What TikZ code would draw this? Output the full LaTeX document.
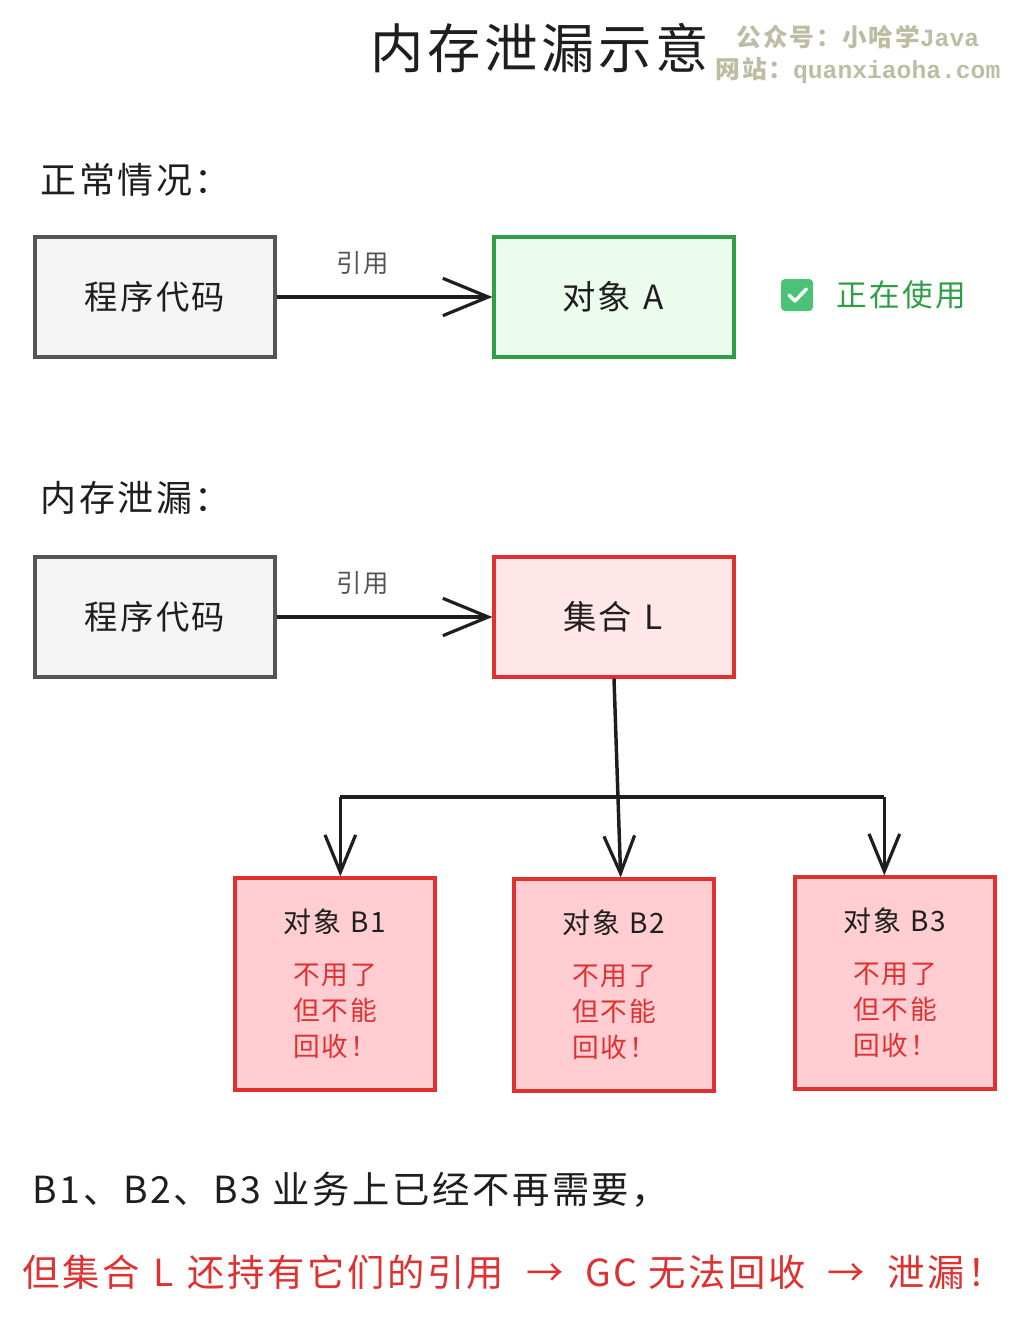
\documentclass[tikz,border=0pt]{standalone}
\usepackage{fontspec}
\setmainfont{Noto Sans CJK SC}[LetterSpace=7]
\newfontfamily\wmmono{Liberation Mono}
\usetikzlibrary{arrows.meta,positioning}

\definecolor{inkdark}{HTML}{1E1E1E}
\definecolor{inkgray}{HTML}{555555}
\definecolor{codefill}{HTML}{F5F5F5}
\definecolor{okgreen}{HTML}{2F9E44}
\definecolor{okfill}{HTML}{EBFBEE}
\definecolor{okbox}{HTML}{4CC276}
\definecolor{leakred}{HTML}{E03131}
\definecolor{setfill}{HTML}{FFE6E8}
\definecolor{objfill}{HTML}{FFCDD2}
\definecolor{wmcolor}{HTML}{BDBDA3}

\begin{document}
\begin{tikzpicture}[x=0.75pt, y=-0.75pt,
    box/.style={draw, line width=2.4pt, minimum width=180pt, minimum height=90pt,
      font=\fontsize{25pt}{30pt}\selectfont, text=inkdark},
    codebox/.style={box, draw=inkgray, fill=codefill},
    objbox/.style={draw=leakred, fill=objfill, line width=2.4pt,
      minimum width=150pt, minimum height=159pt, align=center, text=inkdark,
      font=\fontsize{20pt}{27pt}\selectfont},
    heading/.style={anchor=west, text=inkdark, font=\fontsize{27pt}{32pt}\selectfont},
    reflink/.style={line width=2.4pt, draw=inkdark,
      -{Straight Barb[length=34pt, width=28pt, line width=2.4pt]}},
    downlink/.style={line width=2.6pt, draw=inkdark,
      -{Straight Barb[length=28pt, width=23pt, line width=2.4pt]}},
    reflabel/.style={text=inkgray, font=\fontsize{19pt}{22pt}\selectfont}]

  \useasboundingbox (0,0) rectangle (1019,1321);

  % title and watermark
  \node [text=inkdark, font=\fontsize{40pt}{44pt}\selectfont] (title) at (540,48) {内存泄漏示意};
  \node [text=wmcolor, align=center, font=\fontsize{18.5pt}{24pt}\bfseries] (mark) at (858,54)
        {公众号：小哈学{\wmmono Java}\\网站：{\wmmono quanxiaoha.com}};

  % normal case
  \node [heading] (normal) at (36,180) {正常情况：};
  \node [codebox] (code1) at (155,297) {程序代码};
  \node [box, draw=okgreen, fill=okfill] (objA) at (614,297) {对象 \textit{A}};
  \draw [reflink] (code1) -- node [reflabel, pos=0.4, above=12pt] (ref1) {引用} (objA);

  \node [fill=okbox, rounded corners=3pt, minimum size=24pt, inner sep=0pt] (chk) at (797,295) {};
  \draw [white, line width=2.6pt, line cap=round, line join=round]
        ([shift={(-6pt,0pt)}]chk.center) -- ([shift={(-1.5pt,-4.5pt)}]chk.center)
        -- ([shift={(7pt,4.5pt)}]chk.center);
  \node [right=14pt of chk, text=okgreen, font=\fontsize{23pt}{27pt}\selectfont] (inuse) {正在使用};

  % leak case
  \node [heading] (leak) at (36,498) {内存泄漏：};
  \node [codebox] (code2) at (155,617) {程序代码};
  \node [box, draw=leakred, fill=setfill] (setL) at (614,617) {集合 \textit{L}};
  \draw [reflink] (code2) -- node [reflabel, pos=0.4, above=12pt] (ref2) {引用} (setL);

  \node [objbox] (b1) at (335,984) {{\fontsize{21pt}{27pt}\selectfont 对象 B1}\\[12pt]
        \textcolor{leakred}{不用了}\\\textcolor{leakred}{但不能}\\\textcolor{leakred}{回收！}};
  \node [objbox] (b2) at (614,985) {{\fontsize{21pt}{27pt}\selectfont 对象 B2}\\[12pt]
        \textcolor{leakred}{不用了}\\\textcolor{leakred}{但不能}\\\textcolor{leakred}{回收！}};
  \node [objbox] (b3) at (895,983) {{\fontsize{21pt}{27pt}\selectfont 对象 B3}\\[12pt]
        \textcolor{leakred}{不用了}\\\textcolor{leakred}{但不能}\\\textcolor{leakred}{回收！}};

  \coordinate (bus) at (0,797);
  \coordinate (busL) at ([xshift=4pt]b1.north |- bus);
  \coordinate (busR) at ([xshift=-8pt]b3.north |- bus);
  \draw [line width=2.6pt, draw=inkdark] (busL) -- (busR);
  \draw [downlink] (setL.south) -- ([xshift=5pt]b2.north);
  \draw [downlink] (busL) -- ([xshift=4pt]b1.north);
  \draw [downlink] (busR) -- ([xshift=-8pt]b3.north);

  % summary
  \node [anchor=west, text=inkdark, font=\fontsize{28pt}{32pt}\selectfont] (note1) at (28,1190)
        {B1、B2、B3 业务上已经不再需要，};
  \node [anchor=west, text=leakred, font=\fontsize{28pt}{32pt}\selectfont] (note2) at (18,1272)
        {但集合 \textit{L} 还持有它们的引用\ \ →\ \ GC 无法回收\ \ →\ \ 泄漏！};

\end{tikzpicture}
\end{document}
